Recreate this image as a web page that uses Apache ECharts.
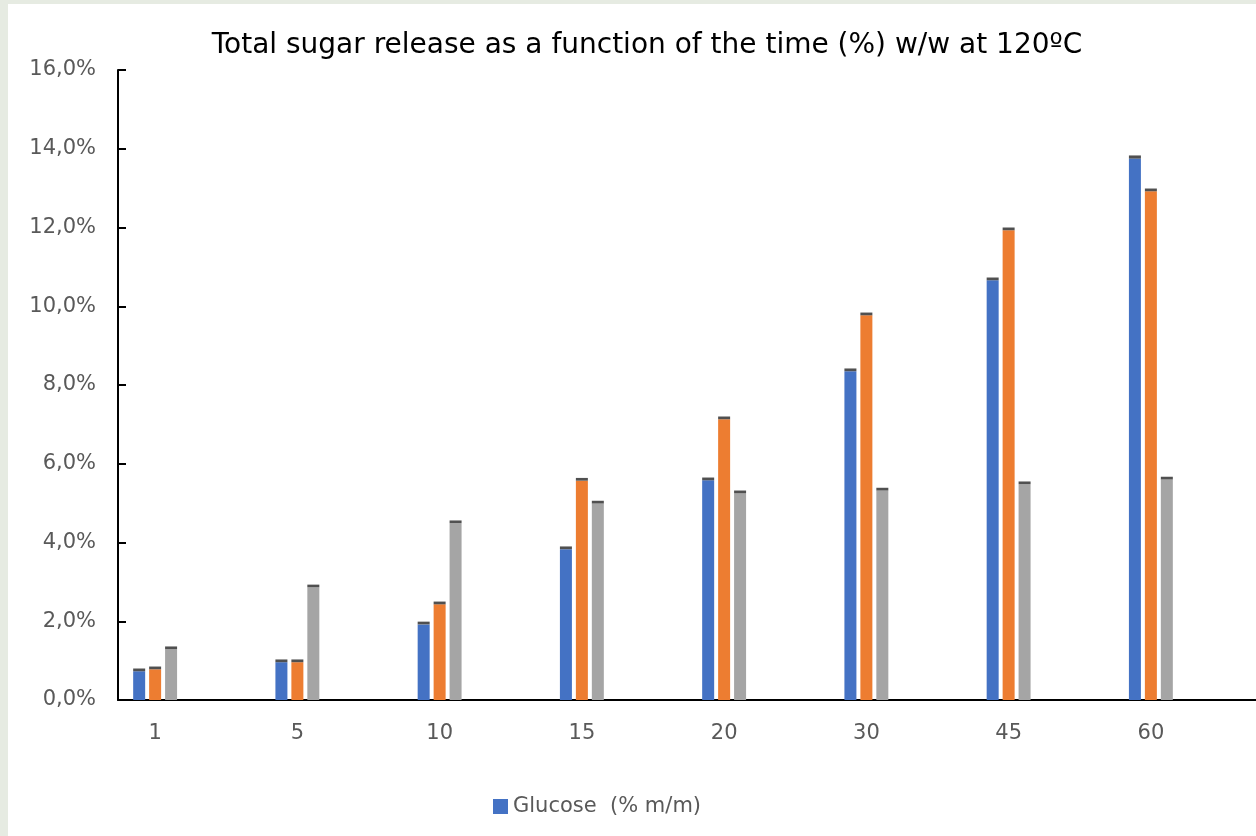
<!DOCTYPE html>
<html>
<head>
<meta charset="utf-8">
<script src="https://cdn.jsdelivr.net/npm/echarts@6/dist/echarts.min.js"></script>
<style>
  html, body { margin: 0; padding: 0; background: #e6ebe2; width: 1256px; height: 836px; overflow: hidden; }
  #chart { position: absolute; left: 8px; top: 4px; width: 1248px; height: 832px; background: #fff; }
</style>
</head>
<body>
<div id="chart"></div>
<script>
  // time (min)
  var categories = ['1', '5', '10', '15', '20', '30', '45', '60'];
  // bar values (%)
  var glucose = [0.73, 0.96, 1.92, 3.83, 5.58, 8.35, 10.66, 13.75];
  var seriesB = [0.78, 0.96, 2.43, 5.57, 7.13, 9.77, 11.93, 12.92];
  var seriesC = [1.29, 2.86, 4.49, 4.99, 5.25, 5.32, 5.48, 5.60];
  // small dark caps on top of each bar (error marks)
  var errGlucose = [0.07, 0.07, 0.07, 0.07, 0.07, 0.07, 0.07, 0.08];
  var errB = [0.07, 0.07, 0.07, 0.07, 0.07, 0.07, 0.07, 0.07];
  var errC = [0.07, 0.07, 0.07, 0.07, 0.07, 0.07, 0.07, 0.07];
  var yTicks = [0, 2, 4, 6, 8, 10, 12, 14, 16];

  var font = 'DejaVu Sans';
  var muted = '#595959', cap = '#505050';

  var chart = echarts.init(document.getElementById('chart'), null, { renderer: 'canvas' });

  function bar(name, data, color, stack) {
    return { name: name, type: 'bar', stack: stack, data: data, barWidth: 12, barGap: '33%',
      itemStyle: { color: color }, xAxisIndex: 0, yAxisIndex: 0, silent: true };
  }

  chart.setOption({
    animation: false,
    textStyle: { fontFamily: font },
    title: {
      text: 'Total sugar release as a function of the time (%) w/w at 120ºC',
      left: 634, top: 23, textAlign: 'center',
      textStyle: { color: '#000', fontSize: 28, fontWeight: 'normal', fontFamily: font }
    },
    legend: {
      data: ['Glucose  (% m/m)'],
      left: 480, top: 787, icon: 'rect', itemWidth: 15, itemHeight: 15, itemGap: 6,
      textStyle: { color: muted, fontSize: 21, fontFamily: font }
    },
    grid: [
      { left: 76, right: 34, top: 66, bottom: 136 },
      { left: 110, right: 0, top: 66, bottom: 136 }
    ],
    xAxis: [
      { type: 'category', gridIndex: 0, data: categories,
        axisLine: { show: false }, axisTick: { show: false },
        axisLabel: { color: muted, fontSize: 21, margin: 23 } },
      { type: 'value', gridIndex: 1, min: 0, max: 1,
        axisLine: { show: true, lineStyle: { color: '#000', width: 2 } },
        axisTick: { show: false }, axisLabel: { show: false }, splitLine: { show: false } }
    ],
    yAxis: [
      { type: 'value', gridIndex: 0, min: yTicks[0], max: yTicks[yTicks.length - 1], interval: 2, offset: -34,
        axisLine: { show: true, lineStyle: { color: '#000', width: 2 } },
        axisTick: { show: true, inside: true, length: 8, lineStyle: { color: '#000', width: 2 } },
        axisLabel: { color: muted, fontSize: 21, margin: 22,
          formatter: function(v) { return v.toFixed(1).replace('.', ',') + '%'; } },
        splitLine: { show: false } },
      { type: 'value', gridIndex: 1, show: false, min: 0, max: 1 }
    ],
    series: [
      bar('Glucose  (% m/m)', glucose, '#4472c4', 'a'),
      bar('capA', errGlucose, cap, 'a'),
      bar('B', seriesB, '#ed7d31', 'b'),
      bar('capB', errB, cap, 'b'),
      bar('C', seriesC, '#a5a5a5', 'c'),
      bar('capC', errC, cap, 'c')
    ]
  });
</script>
</body>
</html>
